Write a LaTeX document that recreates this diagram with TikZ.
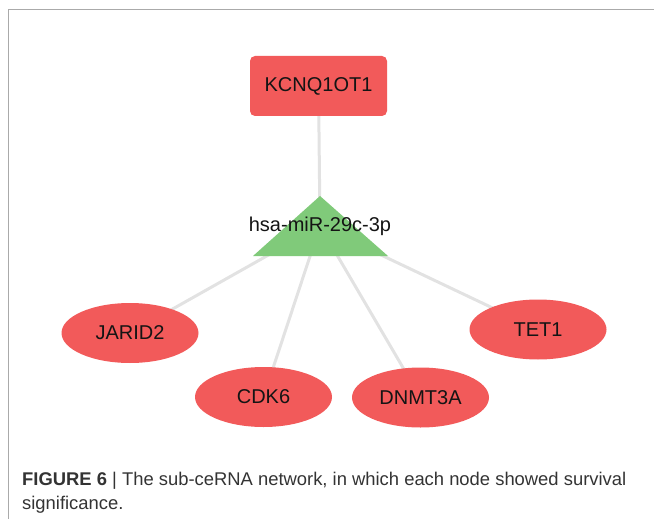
\documentclass[tikz,border=0pt]{standalone}
\usepackage{fontspec}
\setmainfont{Liberation Sans}
\usetikzlibrary{shapes.geometric,backgrounds}
\definecolor{genered}{RGB}{242,90,90}
\definecolor{mirgreen}{RGB}{128,202,122}
\definecolor{edgegray}{RGB}{226,226,226}
\definecolor{framegray}{RGB}{170,170,170}
\definecolor{captext}{RGB}{51,51,51}
\tikzset{
  gene/.style={ellipse, fill=genered, minimum width=137bp, minimum height=60bp,
    inner sep=0pt, font=\fontsize{20bp}{24bp}\selectfont, text=black!92},
  lnc/.style={rectangle, rounded corners=5bp, fill=genered, minimum width=137bp,
    minimum height=60bp, inner sep=0pt, font=\fontsize{20bp}{24bp}\selectfont, text=black!92},
  mirlabel/.style={inner sep=0pt, font=\fontsize{20bp}{24bp}\selectfont, text=black!92},
  link/.style={draw=edgegray, line width=3bp},
  caption/.style={inner sep=0pt, anchor=base west, text=captext,
    font=\fontsize{18.4bp}{25bp}\selectfont}
}
\begin{document}
\begin{tikzpicture}[x=1bp, y=-1bp]
  \useasboundingbox (0,0) rectangle (654,519);
  % frame lines
  \draw[framegray, line width=1bp] (8,519) -- (8,10) -- (654,10);

  % nodes
  \node[lnc] (kcn) at (318.5,86) {KCNQ1OT1};
  \fill[mirgreen] (320,196) -- (388,256) -- (253,256) -- cycle;
  \node[mirlabel] (mir) at (320,226) {hsa-miR-29c-3p};
  \node[gene] (jarid) at (130,333) {JARID2};
  \node[gene] (cdk) at (263.5,397) {CDK6};
  \node[gene] (dnmt) at (420.5,397.5) {DNMT3A};
  \node[gene] (tet) at (538,329.5) {TET1};

  % edges behind the nodes
  \begin{pgfonlayer}{background}
    \draw[link] (kcn.center) -- (mir.center);
    \draw[link] (mir.center) -- (jarid.center);
    \draw[link] (mir.center) -- (cdk.center);
    \draw[link] (mir.center) -- (dnmt.center);
    \draw[link] (mir.center) -- (tet.center);
  \end{pgfonlayer}

  % caption
  \node[caption] (cap1) at (22,485) {\textbf{FIGURE 6} | The sub-ceRNA network, in which each node showed survival};
  \node[caption] (cap2) at (22,509) {significance.};
\end{tikzpicture}
\end{document}
